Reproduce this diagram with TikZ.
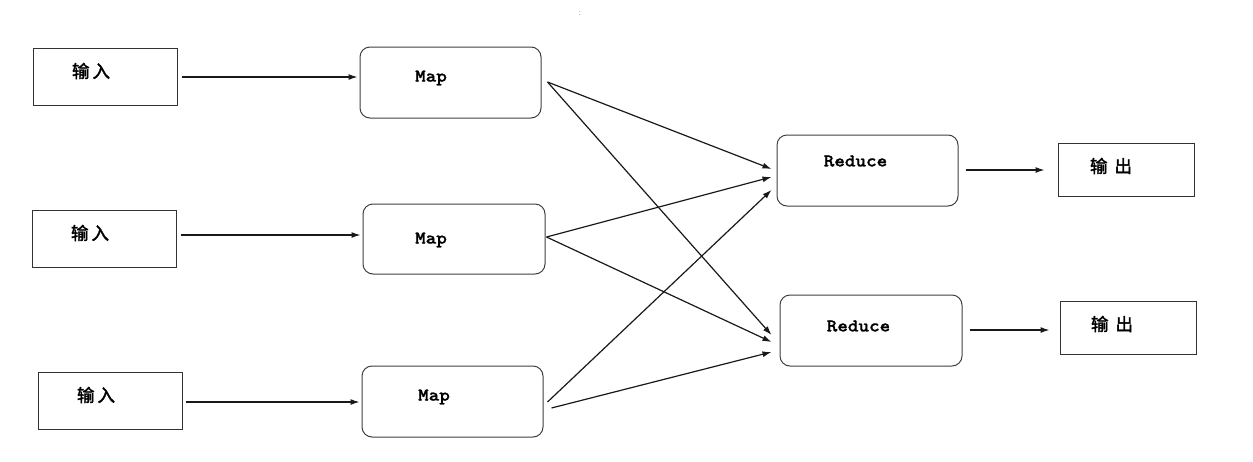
\documentclass[tikz,border=0pt]{standalone}
\usepackage{fontspec}
\newfontfamily\codefont{lmmonolt10-bold.otf}[FakeStretch=1.12,FakeBold=1.2]
\newfontfamily\cjk{Noto Sans CJK SC}[FakeBold=2.2]
\usetikzlibrary{arrows.meta,calc}
\begin{document}
\begin{tikzpicture}[x=1pt,y=-1pt,
  inbox/.style={draw=black!80,line width=1pt,inner sep=0pt,minimum width=144pt,minimum height=57pt},
  outbox/.style={draw=black!80,line width=1pt,inner sep=0pt,minimum width=136pt,minimum height=53pt},
  rbox/.style={draw=black!75,line width=1pt,rounded corners=10pt,inner sep=0pt,minimum width=181pt,minimum height=71pt},
  cjktxt/.style={font=\cjk\fontsize{17.5}{20}\selectfont,inner sep=0pt},
  entxt/.style={font=\codefont\fontsize{18}{20}\selectfont,inner sep=0pt},
  arr/.style={draw=black!90,line width=1.2pt,-{Latex[length=9pt,width=6pt]}}]
\useasboundingbox (0,0) rectangle (1253,461);
\fill[white] (0,0) rectangle (1253,461);
% input boxes
\node[inbox] (in1) at (105.5,76.5) {};
\node[inbox] (in2) at (104,238.5) {};
\node[inbox] (in3) at (110,400.5) {};
\node[cjktxt] (tin1) at (91,71) {输\hspace{3pt}入};
\node[cjktxt] (tin2) at (90,233) {输\hspace{3pt}入};
\node[cjktxt] (tin3) at (96,395) {输\hspace{3pt}入};
% map boxes
\node[rbox] (m1) at (450.5,82.5) {};
\node[rbox,minimum width=182pt,minimum height=70pt] (m2) at (454,239) {};
\node[rbox] (m3) at (452.5,401.5) {};
\node[entxt] (tm1) at (431,78) {Map};
\node[entxt] (tm2) at (431,240) {Map};
\node[entxt] (tm3) at (434,397) {Map};
% reduce boxes
\node[rbox] (r1) at (867.5,170.5) {};
\node[rbox,minimum width=182pt] (r2) at (871,330.5) {};
\node[entxt] (tr1) at (855.5,161) {Reduce};
\node[entxt] (tr2) at (858.5,326) {Reduce};
% output boxes
\node[outbox] (o1) at (1126,169.5) {};
\node[outbox] (o2) at (1128,327.5) {};
\node[cjktxt] (to1) at (1111,166) {输\hspace{7pt}出};
\node[cjktxt] (to2) at (1112,324) {输\hspace{7pt}出};
% colon
\node[font=\fontsize{9}{10}\selectfont,text=black!60,inner sep=0pt] (colon) at (580,14) {:};
% input -> map
\draw[arr] ($(in1.east)+(4,0.5)$) -- ($(m1.west)+(-2,-5.5)$);
\draw[arr] ($(in2.east)+(4,-3.5)$) -- ($(m2.west)+(-2,-4)$);
\draw[arr] ($(in3.east)+(3,1.5)$) -- ($(m3.west)+(-2,0.5)$);
% map -> reduce
\draw[arr] ($(m1.east)+(6,-0.5)$) -- ($(r1.west)+(-5,-1.5)$);
\draw[arr] ($(m1.east)+(6,-0.5)$) -- ($(r2.west)+(-8,4.5)$);
\draw[arr] ($(m2.east)+(1,-2)$) -- ($(r1.west)+(-5,6.5)$);
\draw[arr] ($(m2.east)+(1,-2)$) -- ($(r2.west)+(-8,11.5)$);
\draw[arr] ($(m3.east)+(4,0.5)$) -- ($(r1.west)+(-5,19.5)$);
\draw[arr] ($(m3.east)+(8,6.5)$) -- ($(r2.west)+(-8,21.5)$);
% reduce -> output
\draw[arr] ($(r1.east)+(7,-0.5)$) -- ($(o1.west)+(-13,0.5)$);
\draw[arr] ($(r2.east)+(7,-0.5)$) -- ($(o2.west)+(-10,2.5)$);
\end{tikzpicture}
\end{document}
